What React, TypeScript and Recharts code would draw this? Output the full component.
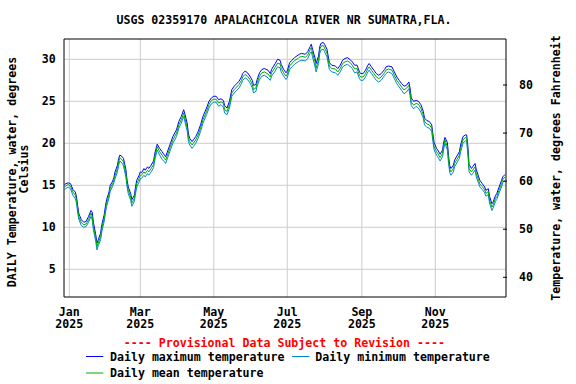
import React from "react";
import { LineChart, Line, XAxis, YAxis, CartesianGrid, ReferenceArea } from "recharts";

if (typeof document !== "undefined") {
  document.body.style.margin = "0";
}

const FONT = "'DejaVu Sans Mono', monospace";
const FS = 11.6;

// day offsets from Jan 1, 2025
const days = [
  -4, -1, 1, 3, 5, 6, 7, 8, 10, 12,
  14, 16, 18, 19, 20, 22, 23, 24, 26, 27,
  29, 30, 31, 33, 34, 36, 37, 38, 40, 41,
  42, 44, 45, 47, 48, 49, 51, 52, 54, 55,
  56, 58, 59, 60, 62, 63, 65, 66, 68, 70,
  71, 73, 75, 77, 79, 80, 82, 84, 86, 89,
  91, 93, 95, 96, 98, 99, 100, 102, 103, 105,
  107, 109, 111, 114, 116, 118, 120, 122, 124, 126,
  128, 129, 131, 133, 135, 137, 139, 141, 143, 144,
  146, 148, 150, 152, 153, 155, 156, 158, 160, 162,
  165, 167, 168, 171, 173, 175, 176, 178, 180, 181,
  183, 185, 187, 190, 191, 193, 196, 198, 200, 201,
  202, 204, 205, 207, 208, 209, 211, 212, 214, 215,
  216, 218, 221, 223, 225, 227, 229, 231, 233, 235,
  237, 239, 241, 242, 244, 246, 248, 249, 251, 253,
  255, 257, 259, 262, 263, 265, 268, 270, 272, 274,
  276, 278, 280, 282, 283, 284, 286, 288, 290, 292,
  294, 295, 297, 299, 301, 302, 303, 305, 306, 308,
  310, 311, 312, 314, 315, 316, 317, 319, 320, 322,
  324, 325, 327, 329, 330, 331, 332, 334, 335, 337,
  338, 340, 341, 343, 345, 346, 348, 349, 351, 352,
  354, 355, 357, 359, 360, 362,
];

const meanTemp = [
  14.8, 15.1, 14.9, 14.2, 13.8, 13.25, 12.1, 11.2, 10.55, 10.3,
  10.4, 10.9, 11.7, 11.3, 10.1, 8.7, 7.7, 8.1, 8.9, 9.9,
  11.1, 12.1, 12.9, 13.85, 14.65, 15.2, 15.6, 16.2, 17.0, 17.8,
  18.3, 18.0, 17.8, 16.4, 15.2, 14.4, 13.6, 12.9, 13.45, 14.4,
  15.2, 15.8, 16.2, 16.2, 16.6, 16.4, 16.8, 16.6, 17.0, 17.5,
  18.4, 19.6, 19.0, 18.6, 18.2, 18.0, 18.8, 19.6, 20.4, 21.2,
  22.2, 22.8, 23.6, 23.0, 21.8, 20.6, 20.2, 19.8, 20.0, 20.4,
  21.0, 21.8, 22.8, 23.8, 24.6, 25.1, 25.25, 25.25, 24.8, 24.95,
  24.75, 24.0, 23.8, 24.6, 26.0, 26.4, 26.7, 27.0, 27.5, 27.9,
  28.2, 28.0, 27.6, 27.0, 26.4, 26.6, 27.2, 28.0, 28.4, 28.5,
  28.25, 27.9, 28.4, 29.05, 29.55, 29.45, 28.95, 28.4, 28.0, 28.2,
  29.2, 29.55, 29.85, 30.1, 30.25, 30.35, 30.25, 30.5, 31.15, 31.4,
  30.75, 29.75, 28.95, 29.95, 31.15, 31.55, 31.65, 31.35, 30.75, 29.95,
  29.2, 28.9, 28.85, 28.5, 28.9, 29.5, 29.7, 29.8, 29.65, 29.3,
  28.85, 28.9, 28.1, 27.9, 27.9, 28.3, 28.9, 29.1, 28.7, 28.3,
  27.9, 27.7, 27.9, 28.45, 28.7, 28.85, 28.7, 28.1, 27.5, 27.1,
  26.7, 26.35, 26.55, 26.9, 26.1, 24.9, 24.55, 24.75, 24.65, 24.15,
  23.4, 22.6, 22.3, 22.2, 21.8, 20.6, 19.6, 19.0, 18.8, 18.3,
  18.8, 19.8, 20.4, 19.6, 18.0, 16.9, 16.6, 17.0, 17.6, 18.1,
  18.6, 19.4, 20.4, 20.7, 20.6, 19.2, 17.0, 16.6, 16.8, 17.2,
  16.4, 15.6, 15.15, 14.85, 14.45, 14.05, 14.25, 13.25, 12.4, 12.65,
  13.45, 13.65, 14.45, 15.2, 15.7, 16.0,
];

const maxTemp = [
  15.1, 15.3, 15.2, 14.5, 14.2, 13.6, 12.5, 11.6, 10.9, 10.6,
  10.7, 11.3, 12.0, 11.8, 10.6, 9.1, 8.1, 8.5, 9.3, 10.3,
  11.5, 12.5, 13.3, 14.2, 15.0, 15.5, 15.9, 16.6, 17.4, 18.2,
  18.6, 18.4, 18.2, 16.9, 15.6, 14.8, 14.0, 13.3, 13.8, 14.8,
  15.6, 16.2, 16.6, 16.5, 17.0, 16.8, 17.2, 17.0, 17.4, 17.9,
  18.8, 19.9, 19.4, 19.0, 18.6, 18.4, 19.2, 20.0, 20.8, 21.6,
  22.6, 23.2, 24.0, 23.5, 22.3, 21.1, 20.6, 20.2, 20.4, 20.8,
  21.4, 22.2, 23.2, 24.2, 25.0, 25.4, 25.6, 25.6, 25.2, 25.3,
  25.1, 24.5, 24.2, 25.0, 26.4, 26.8, 27.1, 27.4, 27.9, 28.3,
  28.6, 28.4, 28.0, 27.5, 26.9, 27.0, 27.6, 28.4, 28.8, 28.9,
  28.7, 28.3, 28.8, 29.5, 30.0, 29.9, 29.4, 28.8, 28.4, 28.6,
  29.6, 29.9, 30.2, 30.5, 30.6, 30.7, 30.6, 30.9, 31.5, 31.8,
  31.2, 30.2, 29.5, 30.4, 31.5, 31.9, 32.0, 31.8, 31.2, 30.4,
  29.6, 29.3, 29.2, 28.9, 29.3, 29.9, 30.1, 30.2, 30.0, 29.7,
  29.3, 29.3, 28.5, 28.3, 28.3, 28.7, 29.3, 29.5, 29.1, 28.7,
  28.3, 28.1, 28.3, 28.8, 29.1, 29.2, 29.1, 28.5, 27.9, 27.5,
  27.1, 26.8, 26.9, 27.3, 26.6, 25.4, 25.0, 25.1, 25.0, 24.6,
  23.8, 23.0, 22.7, 22.6, 22.2, 21.1, 20.1, 19.4, 19.2, 18.7,
  19.2, 20.2, 20.7, 20.1, 18.5, 17.3, 17.0, 17.4, 18.0, 18.5,
  19.0, 19.8, 20.8, 21.0, 21.0, 19.7, 17.5, 17.0, 17.2, 17.6,
  16.9, 16.0, 15.6, 15.2, 14.8, 14.4, 14.6, 13.7, 12.8, 13.0,
  13.8, 14.0, 14.8, 15.6, 16.0, 16.3,
];

const minTemp = [
  14.5, 14.8, 14.6, 13.8, 13.4, 12.9, 11.7, 10.9, 10.2, 10.0,
  10.1, 10.6, 11.3, 10.9, 9.7, 8.3, 7.3, 7.8, 8.5, 9.5,
  10.7, 11.7, 12.5, 13.5, 14.3, 14.9, 15.3, 15.8, 16.6, 17.4,
  17.9, 17.6, 17.3, 16.0, 14.8, 14.0, 13.2, 12.5, 13.1, 14.0,
  14.8, 15.4, 15.8, 15.8, 16.2, 16.0, 16.4, 16.2, 16.6, 17.1,
  18.0, 19.2, 18.6, 18.1, 17.8, 17.6, 18.4, 19.2, 20.0, 20.8,
  21.8, 22.4, 23.2, 22.6, 21.4, 20.2, 19.8, 19.4, 19.6, 20.0,
  20.6, 21.4, 22.4, 23.4, 24.2, 24.7, 24.9, 24.9, 24.4, 24.6,
  24.3, 23.6, 23.4, 24.2, 25.6, 26.0, 26.3, 26.6, 27.1, 27.5,
  27.8, 27.6, 27.2, 26.6, 26.0, 26.2, 26.8, 27.6, 28.0, 28.1,
  27.8, 27.5, 28.0, 28.6, 29.1, 29.0, 28.5, 28.0, 27.6, 27.8,
  28.8, 29.1, 29.4, 29.7, 29.8, 29.9, 29.8, 30.1, 30.7, 30.9,
  30.3, 29.2, 28.5, 29.5, 30.7, 31.1, 31.2, 30.9, 30.3, 29.5,
  28.8, 28.5, 28.4, 28.1, 28.5, 29.1, 29.3, 29.4, 29.2, 28.9,
  28.4, 28.5, 27.7, 27.5, 27.5, 27.9, 28.5, 28.7, 28.3, 27.9,
  27.5, 27.3, 27.5, 28.1, 28.3, 28.5, 28.3, 27.7, 27.1, 26.7,
  26.3, 25.9, 26.1, 26.5, 25.7, 24.5, 24.1, 24.4, 24.2, 23.7,
  23.0, 22.2, 21.9, 21.8, 21.4, 20.2, 19.2, 18.6, 18.4, 17.9,
  18.4, 19.4, 20.0, 19.2, 17.6, 16.5, 16.2, 16.6, 17.2, 17.7,
  18.2, 19.0, 20.0, 20.3, 20.2, 18.8, 16.6, 16.2, 16.4, 16.8,
  16.0, 15.2, 14.8, 14.5, 14.1, 13.7, 13.9, 12.9, 12.0, 12.3,
  13.1, 13.3, 14.1, 14.8, 15.3, 15.6,
];

const monthTicks = [0, 59, 120, 181, 243, 304];
const monthLabels = ["Jan", "Mar", "May", "Jul", "Sep", "Nov"];
const yearLabel = "2025";
const celsiusTicks = [5, 10, 15, 20, 25, 30];
const fahrenheitTicks = [40, 50, 60, 70, 80];

const xDomain: [number, number] = [-4.4, 362.7];
const cDomain: [number, number] = [1.7, 32.42];
const fDomain: [number, number] = [35.9, 89.57];

const data = days.map((d, i) => ({
  day: d,
  max: maxTemp[i],
  min: minTemp[i],
  mean: meanTemp[i],
}));

const textStyle = {
  fontFamily: FONT,
  fontWeight: "bold" as const,
  fontSize: FS,
  fill: "#000",
};

const XTick = (props: any) => {
  const { x, y, payload } = props;
  const idx = monthTicks.indexOf(payload.value);
  return (
    <g>
      <text x={x} y={y + 18.8} textAnchor="middle" style={textStyle}>
        {monthLabels[idx]}
      </text>
      <text x={x} y={y + 31.3} textAnchor="middle" style={textStyle}>
        {yearLabel}
      </text>
    </g>
  );
};

const LeftTick = (props: any) => {
  const { x, y, payload } = props;
  return (
    <text x={x - 8.3} y={y + 4} textAnchor="end" style={textStyle}>
      {payload.value}
    </text>
  );
};

const RightTick = (props: any) => {
  const { x, y, payload } = props;
  return (
    <g>
      <line x1={x - 3} x2={x + 1} y1={y} y2={y} stroke="#000" strokeWidth={1} />
      <text x={x + 13} y={y + 4} textAnchor="start" style={textStyle}>
        {payload.value}
      </text>
    </g>
  );
};

const MAX_COLOR = "#0000ff";
const MIN_COLOR = "#0088cc";
const MEAN_COLOR = "#00aa00";

export default function App() {
  return (
    <div style={{ position: "relative", width: 576, height: 384, background: "#fff" }}>
      <LineChart
        width={576}
        height={384}
        data={data}
        margin={{ top: 39, right: 0, bottom: 0, left: 0 }}
      >
        <CartesianGrid
          stroke="#cccccc"
          strokeWidth={1}
          yAxisId="c"
          verticalValues={monthTicks}
          horizontalValues={celsiusTicks}
        />
        <XAxis
          dataKey="day"
          type="number"
          domain={xDomain}
          allowDataOverflow
          ticks={monthTicks}
          tick={<XTick />}
          tickLine={false}
          axisLine={false}
          tickSize={0}
          tickMargin={0}
          height={87}
          interval={0}
        />
        <YAxis
          yAxisId="c"
          orientation="left"
          type="number"
          domain={cDomain}
          allowDataOverflow
          ticks={celsiusTicks}
          tick={<LeftTick />}
          tickLine={false}
          axisLine={false}
          tickSize={0}
          tickMargin={0}
          width={64}
          interval={0}
        />
        <YAxis
          yAxisId="f"
          orientation="right"
          type="number"
          domain={fDomain}
          allowDataOverflow
          ticks={fahrenheitTicks}
          tick={<RightTick />}
          tickLine={false}
          axisLine={false}
          tickSize={0}
          tickMargin={0}
          width={70}
          interval={0}
        />
        <ReferenceArea
          yAxisId="c"
          x1={xDomain[0]}
          x2={xDomain[1]}
          y1={cDomain[0]}
          y2={cDomain[1]}
          fill="none"
          stroke="#000"
          strokeWidth={1}
          ifOverflow="visible"
        />
        <Line
          yAxisId="c"
          type="linear"
          dataKey="max"
          stroke={MAX_COLOR}
          strokeWidth={1}
          dot={false}
          activeDot={false}
          isAnimationActive={false}
        />
        <Line
          yAxisId="c"
          type="linear"
          dataKey="min"
          stroke={MIN_COLOR}
          strokeWidth={1}
          dot={false}
          activeDot={false}
          isAnimationActive={false}
        />
        <Line
          yAxisId="c"
          type="linear"
          dataKey="mean"
          stroke={MEAN_COLOR}
          strokeWidth={1}
          dot={false}
          activeDot={false}
          isAnimationActive={false}
        />
      </LineChart>
      <svg
        width={576}
        height={384}
        style={{ position: "absolute", left: 0, top: 0, pointerEvents: "none" }}
      >
        <text x={284} y={24} textAnchor="middle" style={textStyle}>
          USGS 02359170 APALACHICOLA RIVER NR SUMATRA,FLA.
        </text>
        <text transform="translate(15.5,172) rotate(-90)" textAnchor="middle" style={textStyle}>
          DAILY Temperature, water, degrees
        </text>
        <text transform="translate(27.5,169) rotate(-90)" textAnchor="middle" style={textStyle}>
          Celsius
        </text>
        <text transform="translate(559.5,168) rotate(-90)" textAnchor="middle" style={textStyle}>
          Temperature, water, degrees Fahrenheit
        </text>
        <text x={284.4} y={347} textAnchor="middle" style={{ ...textStyle, fill: "#ff0000" }}>
          ---- Provisional Data Subject to Revision ----
        </text>
        <line x1={86} x2={103.3} y1={356.5} y2={356.5} stroke={MAX_COLOR} strokeWidth={1} />
        <text x={110} y={360.8} style={textStyle}>Daily maximum temperature</text>
        <line x1={292} x2={309.3} y1={356.5} y2={356.5} stroke={MIN_COLOR} strokeWidth={1} />
        <text x={315.3} y={360.8} style={textStyle}>Daily minimum temperature</text>
        <line x1={86} x2={103.3} y1={373} y2={373} stroke={MEAN_COLOR} strokeWidth={1} />
        <text x={110} y={377.3} style={textStyle}>Daily mean temperature</text>
      </svg>
    </div>
  );
}
